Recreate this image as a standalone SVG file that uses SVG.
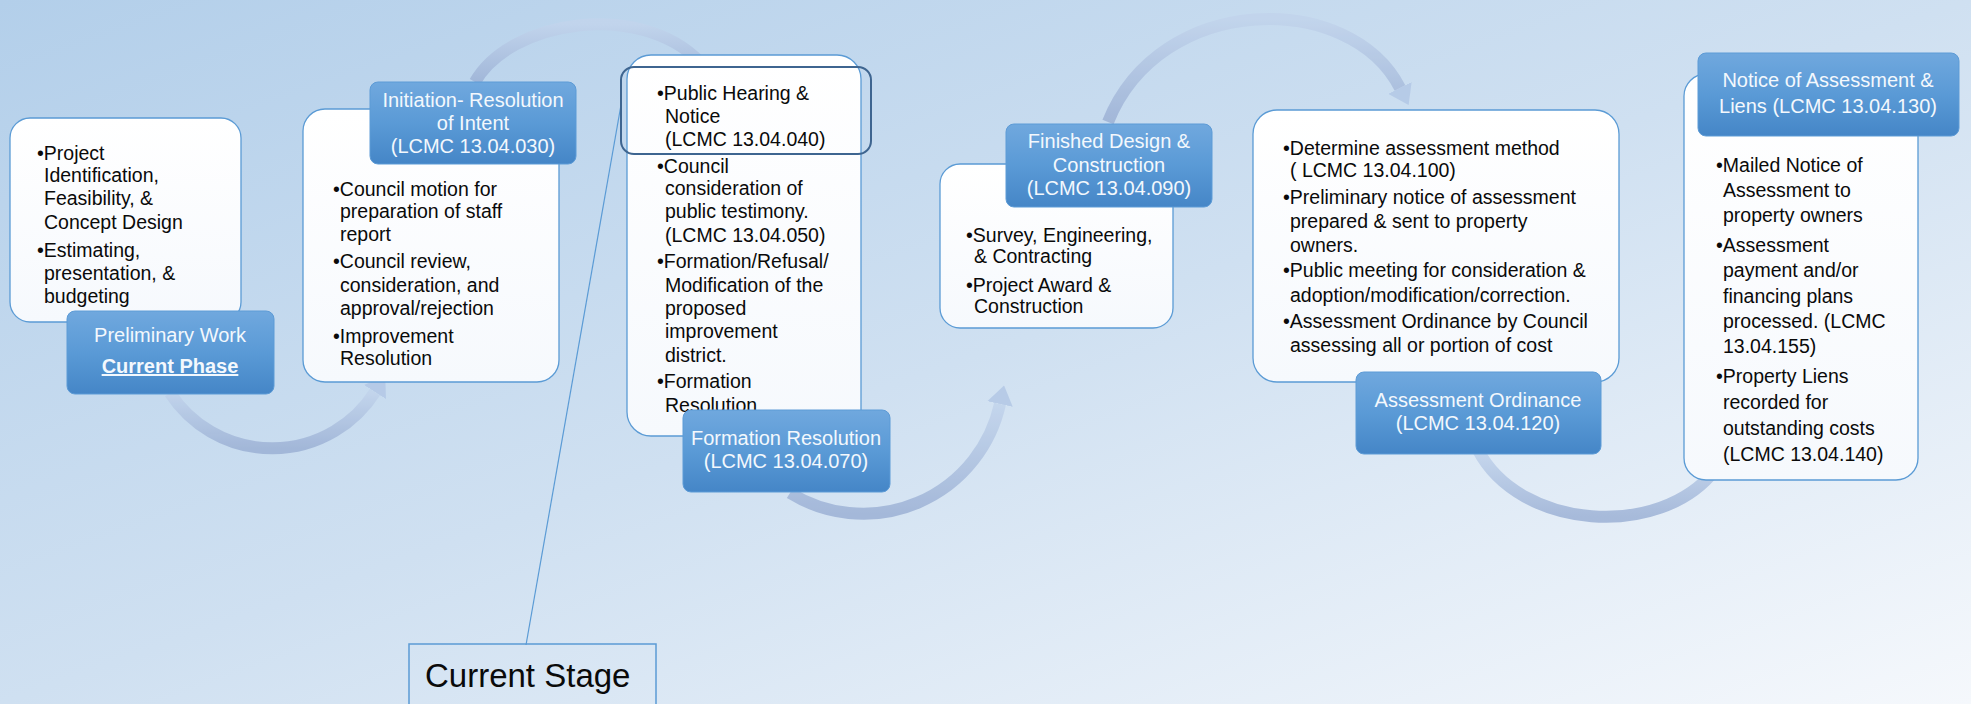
<svg xmlns="http://www.w3.org/2000/svg" width="1971" height="704" viewBox="0 0 1971 704">
<defs>
<linearGradient id="bgGrad" x1="0" y1="0" x2="1" y2="1">
<stop offset="0" stop-color="#b3cfea"/>
<stop offset="0.5" stop-color="#cfe0f1"/>
<stop offset="1" stop-color="#f5f8fc"/>
</linearGradient>
<linearGradient id="boxGrad" x1="0" y1="0" x2="0" y2="1">
<stop offset="0" stop-color="#ffffff"/>
<stop offset="1" stop-color="#f6f9fd"/>
</linearGradient>
<linearGradient id="lblGrad" x1="0" y1="0" x2="0" y2="1">
<stop offset="0" stop-color="#70a8de"/>
<stop offset="0.5" stop-color="#5a9ad6"/>
<stop offset="1" stop-color="#4586c7"/>
</linearGradient>
<linearGradient id="arrGrad" x1="0" y1="0" x2="0" y2="1">
<stop offset="0" stop-color="#c2d4ec"/>
<stop offset="1" stop-color="#9cb1d5"/>
</linearGradient>
<marker id="head" viewBox="0 -13 19 26" refX="0" refY="0" markerWidth="19" markerHeight="26" markerUnits="userSpaceOnUse" orient="auto">
<path d="M0,-13 L19,0 L0,13 z" fill="#b3c8e6"/>
</marker>
</defs>
<style>
.box{fill:url(#boxGrad);stroke:#5b9bd5;stroke-width:1.3}
.lbl{fill:url(#lblGrad);stroke:#5d9bd6;stroke-width:1}
.lt{font-family:"Liberation Sans",Arial,sans-serif;font-size:20px;fill:#f3f8fd;text-anchor:middle}
.bt{font-family:"Liberation Sans",Arial,sans-serif;font-size:19.5px;fill:#0a0a0a}
.arrow{fill:none;stroke:url(#arrGrad);stroke-width:12;opacity:0.85}
.call{fill:none;stroke:#5b9bd5}
</style>
<rect x="0" y="0" width="1971" height="704" fill="url(#bgGrad)"/>

<g id="connectors">
<path class="arrow" d="M170,393 A122,122 0 0 0 375,392" marker-end="url(#head)"/>
<path class="arrow" d="M475,82 C510,20 640,0 700,62"/>
<path class="arrow" d="M790,493 A140,140 0 0 0 1000,404" marker-end="url(#head)"/>
<path class="arrow" d="M1108,122 C1160,-8 1350,-10 1400,88" marker-end="url(#head)"/>
<path class="arrow" d="M1478,450 C1520,530 1660,540 1715,470"/>
<line class="call" x1="526" y1="645" x2="621" y2="105" stroke-width="1.2"/>
</g>

<g id="node-preliminary">
<rect class="box" x="10" y="118" width="231" height="204" rx="20"/>
<text class="bt" x="37" y="160">•Project</text>
<text class="bt" x="44" y="182">Identification,</text>
<text class="bt" x="44" y="205">Feasibility, &amp;</text>
<text class="bt" x="44" y="229">Concept Design</text>
<text class="bt" x="37" y="257">•Estimating,</text>
<text class="bt" x="44" y="280">presentation, &amp;</text>
<text class="bt" x="44" y="303">budgeting</text>
<rect class="lbl" x="67" y="311" width="207" height="83" rx="8"/>
<text class="lt" x="170" y="342">Preliminary Work</text>
<text class="lt" x="170" y="373" text-decoration="underline" font-weight="bold" font-size="18.5">Current Phase</text>
</g>

<g id="node-initiation">
<rect class="box" x="303" y="109" width="256" height="273" rx="22"/>
<text class="bt" x="333" y="196">•Council motion for</text>
<text class="bt" x="340" y="218">preparation of staff</text>
<text class="bt" x="340" y="241">report</text>
<text class="bt" x="333" y="268">•Council review,</text>
<text class="bt" x="340" y="292">consideration, and</text>
<text class="bt" x="340" y="315">approval/rejection</text>
<text class="bt" x="333" y="343">•Improvement</text>
<text class="bt" x="340" y="365">Resolution</text>
<rect class="lbl" x="370" y="82" width="206" height="82" rx="8"/>
<text class="lt" x="473" y="107">Initiation- Resolution</text>
<text class="lt" x="473" y="130">of Intent</text>
<text class="lt" x="473" y="153">(LCMC 13.04.030)</text>
</g>

<g id="node-formation">
<rect class="box" x="627" y="55" width="234" height="381" rx="24"/>
<text class="bt" x="657" y="100">•Public Hearing &amp;</text>
<text class="bt" x="665" y="123">Notice</text>
<text class="bt" x="665" y="146">(LCMC 13.04.040)</text>
<text class="bt" x="657" y="173">•Council</text>
<text class="bt" x="665" y="195">consideration of</text>
<text class="bt" x="665" y="218">public testimony.</text>
<text class="bt" x="665" y="242">(LCMC 13.04.050)</text>
<text class="bt" x="657" y="268">•Formation/Refusal/</text>
<text class="bt" x="665" y="292">Modification of the</text>
<text class="bt" x="665" y="315">proposed</text>
<text class="bt" x="665" y="338">improvement</text>
<text class="bt" x="665" y="362">district.</text>
<text class="bt" x="657" y="388">•Formation</text>
<text class="bt" x="665" y="412">Resolution</text>
<rect x="621" y="67" width="250" height="87" rx="13" fill="none" stroke="#3e6590" stroke-width="2"/>
<rect class="lbl" x="683" y="410" width="207" height="82" rx="8"/>
<text class="lt" x="786" y="445">Formation Resolution</text>
<text class="lt" x="786" y="468">(LCMC 13.04.070)</text>
</g>

<g id="node-design">
<rect class="box" x="940" y="164" width="233" height="164" rx="20"/>
<text class="bt" x="966" y="242" font-size="19">•Survey, Engineering,</text>
<text class="bt" x="974" y="263" font-size="19">&amp; Contracting</text>
<text class="bt" x="966" y="292" font-size="19">•Project Award &amp;</text>
<text class="bt" x="974" y="313" font-size="19">Construction</text>
<rect class="lbl" x="1006" y="124" width="206" height="83" rx="8"/>
<text class="lt" x="1109" y="148">Finished Design &amp;</text>
<text class="lt" x="1109" y="172">Construction</text>
<text class="lt" x="1109" y="195">(LCMC 13.04.090)</text>
</g>

<g id="node-ordinance">
<rect class="box" x="1253" y="110" width="366" height="272" rx="24"/>
<text class="bt" x="1283" y="155">•Determine assessment method</text>
<text class="bt" x="1290" y="177">( LCMC 13.04.100)</text>
<text class="bt" x="1283" y="204">•Preliminary notice of assessment</text>
<text class="bt" x="1290" y="228">prepared &amp; sent to property</text>
<text class="bt" x="1290" y="252">owners.</text>
<text class="bt" x="1283" y="277">•Public meeting for consideration &amp;</text>
<text class="bt" x="1290" y="302">adoption/modification/correction.</text>
<text class="bt" x="1283" y="328">•Assessment Ordinance by Council</text>
<text class="bt" x="1290" y="352">assessing all or portion of cost</text>
<rect class="lbl" x="1356" y="372" width="245" height="82" rx="8"/>
<text class="lt" x="1478" y="407">Assessment Ordinance</text>
<text class="lt" x="1478" y="430">(LCMC 13.04.120)</text>
</g>

<g id="node-liens">
<rect class="box" x="1684" y="74" width="234" height="406" rx="22"/>
<text class="bt" x="1716" y="172" font-size="20.5">•Mailed Notice of</text>
<text class="bt" x="1723" y="197" font-size="20.5">Assessment to</text>
<text class="bt" x="1723" y="222" font-size="20.5">property owners</text>
<text class="bt" x="1716" y="252" font-size="20.5">•Assessment</text>
<text class="bt" x="1723" y="277" font-size="20.5">payment and/or</text>
<text class="bt" x="1723" y="303" font-size="20.5">financing plans</text>
<text class="bt" x="1723" y="328" font-size="20.5">processed. (LCMC</text>
<text class="bt" x="1723" y="353" font-size="20.5">13.04.155)</text>
<text class="bt" x="1716" y="383" font-size="20.5">•Property Liens</text>
<text class="bt" x="1723" y="409" font-size="20.5">recorded for</text>
<text class="bt" x="1723" y="435" font-size="20.5">outstanding costs</text>
<text class="bt" x="1723" y="461" font-size="20.5">(LCMC 13.04.140)</text>
<rect class="lbl" x="1698" y="53" width="261" height="83" rx="8"/>
<text class="lt" x="1828" y="87" font-size="21">Notice of Assessment &amp;</text>
<text class="lt" x="1828" y="113" font-size="21">Liens (LCMC 13.04.130)</text>
</g>

<g id="node-current-stage">
<rect x="409" y="644" width="247" height="80" fill="none" stroke="#5b9bd5" stroke-width="1.5"/>
<text x="425" y="687" font-family="Liberation Sans, Arial, sans-serif" font-size="33" fill="#0a0a0a">Current Stage</text>
</g>
</svg>
